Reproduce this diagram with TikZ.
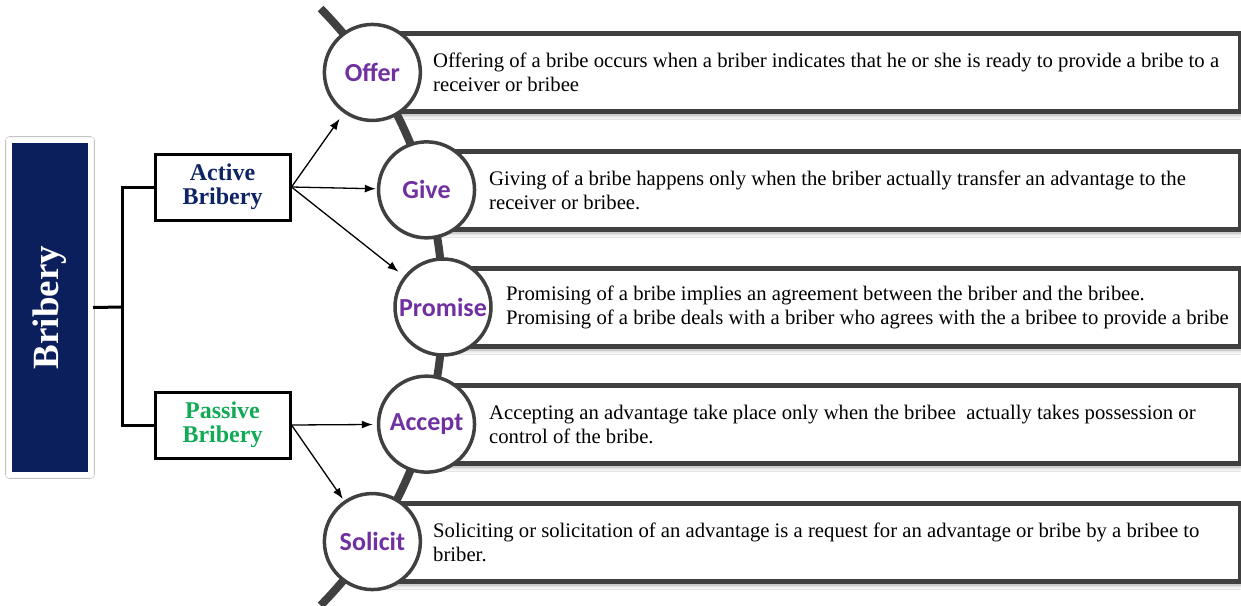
\documentclass[tikz,border=0pt]{standalone}
\usepackage{fontspec}
\setmainfont{Liberation Serif}
\newfontfamily\labelfont{Carlito}
\usetikzlibrary{arrows.meta,shadows.blur}
\definecolor{navy}{HTML}{0B1F5C}
\definecolor{darkline}{HTML}{404040}
\definecolor{stepviolet}{HTML}{7030A0}
\definecolor{activeblue}{HTML}{0F2465}
\definecolor{passivegreen}{HTML}{12AA55}
\begin{document}
\begin{tikzpicture}[x=1pt,y=-1pt,
  catbox/.style={draw=black, line width=3pt, fill=white, minimum width=135pt,
    minimum height=66pt, inner sep=0pt, align=center,
    font=\fontsize{24}{24.5}\selectfont\bfseries},
  stepcircle/.style={circle, draw=darkline, line width=3.5pt, fill=white,
    minimum size=96pt, inner sep=0pt, text=stepviolet,
    font=\labelfont\fontsize{26}{28}\selectfont\bfseries},
  descbox/.style={draw=darkline, line width=5pt, fill=white, anchor=west,
    minimum height=78pt, inner sep=0pt,
    blur shadow={shadow xshift=0pt, shadow yshift=-4pt, shadow blur radius=4pt, shadow opacity=35}},
  desctext/.style={anchor=west, align=left, inner sep=0pt,
    font=\fontsize{20.7}{24}\selectfont},
  tree/.style={line width=3pt, black},
  arr/.style={line width=1.3pt, -{Latex[length=11pt,width=8pt]}},
]
\useasboundingbox (0,0) rectangle (1241,605);
\fill[white] (0,0) rectangle (1241,605);

% description panels, each starting under its circle
\node[descbox, minimum width=866pt] (offerbox)   at (372,72)  {};
\node[descbox, minimum width=812pt] (givebox)    at (426,190) {};
\node[descbox, minimum width=795pt] (promisebox) at (443,307) {};
\node[descbox, minimum width=812pt] (acceptbox)  at (426,424) {};
\node[descbox, minimum width=866pt] (solicitbox) at (372,542) {};

% curved spine through the step circles
\draw[darkline, line width=8pt] (18,307) ++(-44.6:425) arc[start angle=-44.6, end angle=44.6, radius=425];

% step circles on the spine
\path (18,307) ++(-33.5:425) node[stepcircle] (offer) {Offer};
\path (18,307) ++(-16:425)   node[stepcircle] (give) {Give};
\path (18,307) ++(0:425)     node[stepcircle] (promise) {Promise};
\path (18,307) ++(16:425)    node[stepcircle] (accept) {Accept};
\path (18,307) ++(33.5:425)  node[stepcircle] (solicit) {Solicit};

% descriptions
\node[desctext] (offertext) at (433,72) {Offering of a bribe occurs when a briber indicates that he or she is ready to provide a bribe to a\\receiver or bribee};
\node[desctext] (givetext) at (489,190) {Giving of a bribe happens only when the briber actually transfer an advantage to the\\receiver or bribee.};
\node[desctext] (promisetext) at (506,307) {Promising of a bribe implies an agreement between the briber and the bribee.\\Promising of a bribe deals with a briber who agrees with the a bribee to provide a bribe};
\node[desctext] (accepttext) at (489,424) {Accepting an advantage take place only when the bribee\ \ actually takes possession or\\control of the bribe.};
\node[desctext] (solicittext) at (433,542) {Soliciting or solicitation of an advantage is a request for an advantage or bribe by a bribee to\\briber.};

% main heading box
\node[fill=navy, draw=white, line width=5pt, minimum width=81pt, minimum height=334pt, inner sep=0pt,
  blur shadow={shadow xshift=0pt, shadow yshift=0pt, shadow blur radius=4pt, shadow opacity=30}]
  (bribery) at (50,307.5) {};
\node[rotate=90, text=white, font=\fontsize{37}{38}\selectfont\bfseries] (briberytext) at (bribery.center) {Bribery};

% categories
\node[catbox, text=activeblue] (active) at (222.5,187) {Active\\Bribery};
\node[catbox, text=passivegreen] (passive) at (222.5,425) {Passive\\Bribery};

\coordinate (fork) at (122,307);
\draw[tree] (bribery.east) -- (fork);
\draw[tree] (active.west) -| (fork) |- (passive.west);

% arrows to the steps
\draw[arr, shorten >=7pt] (active.east) -- (offer);
\draw[arr, shorten >=1pt] (active.east) -- (give);
\draw[arr, shorten >=7pt] (active.east) -- (promise);
\draw[arr, shorten >=4pt] (passive.east) -- (accept);
\draw[arr, shorten >=2pt] (passive.east) -- (solicit);
\end{tikzpicture}
\end{document}
